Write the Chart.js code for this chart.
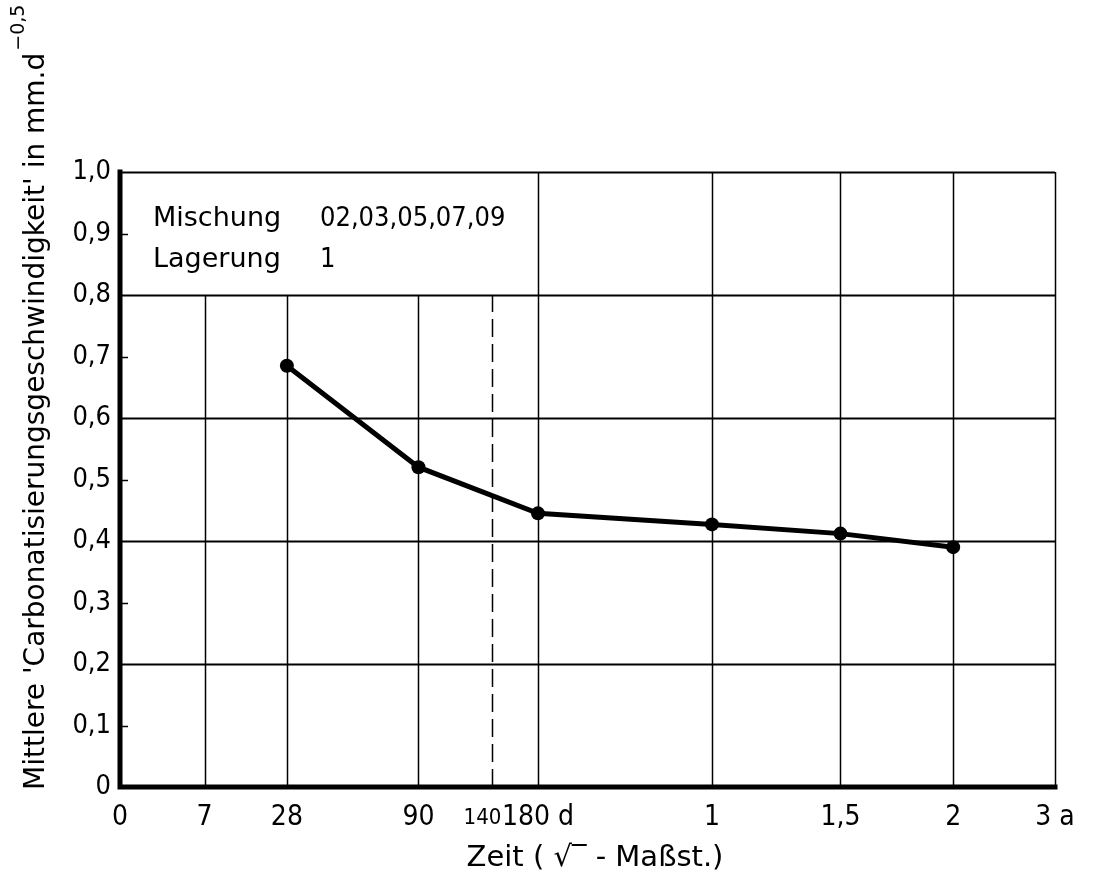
<!DOCTYPE html>
<html>
<head>
<meta charset="utf-8">
<script src="https://cdn.jsdelivr.net/npm/chart.js@4.4.1/dist/chart.umd.min.js"></script>
<style>
    body { margin: 0; background: #fff; }
    canvas { display: block; }
</style>
</head>
<body>
<canvas id="carbChart" width="1098" height="880"></canvas>
<script>
// x axis is a square-root time scale; positions
const tickLabels = ['0', '7', '28', '90', '140', '180 d', '1', '1,5', '2', '3 a'];
const tickPos = [0, 2.73, 5.39, 9.64, 12.03, 13.50, 19.12, 23.27, 26.91, 30.2];

// measured points (Lagerung 1)
const pointLabels = ['28', '90', '180 d', '1', '1,5', '2'];
const rateValues = [0.685, 0.52, 0.445, 0.427, 0.412, 0.39];

const yTickLabels = ['0', '0,1', '0,2', '0,3', '0,4', '0,5', '0,6', '0,7', '0,8', '0,9', '1,0'];

const wordFont = "'DejaVu Sans', sans-serif";
const numFont = "'DejaVu Sans Condensed', 'DejaVu Sans', sans-serif";

const paperGrid = {
    id: 'paperGrid',
    beforeDraw(chart) {
        const ctx = chart.ctx;
        ctx.save();
        ctx.fillStyle = '#fff';
        ctx.fillRect(0, 0, chart.width, chart.height);
        ctx.restore();
    },
    beforeDatasetsDraw(chart) {
        const { ctx, chartArea: a, scales: { x, y } } = chart;
        ctx.save();
        ctx.strokeStyle = '#000';

        // horizontal lines every 0.2, short inner ticks at the odd tenths
        y.ticks.forEach((t, i) => {
            const py = Math.round(y.getPixelForValue(t.value)) + 0.5;
            ctx.beginPath();
            if (i % 2 === 0) {
                if (i === 0) return;
                ctx.lineWidth = 1.8;
                ctx.moveTo(a.left, py);
                ctx.lineTo(a.right, py);
            } else {
                ctx.lineWidth = 1.5;
                ctx.moveTo(a.left, py);
                ctx.lineTo(a.left + 8, py);
            }
            ctx.stroke();
        });

        // vertical lines; the ones left of 180 d stop under the caption box
        const boxEdge = tickPos[tickLabels.indexOf('180 d')];
        const boxBottom = y.getPixelForValue(0.8);
        x.ticks.forEach((t, i) => {
            if (i === 0) return;
            const px = Math.round(x.getPixelForValue(t.value)) + 0.5;
            const top = t.value < boxEdge ? boxBottom : a.top;
            ctx.beginPath();
            ctx.lineWidth = 1.5;
            ctx.setLineDash(tickLabels[i] === '140' ? [18, 7] : []);
            ctx.moveTo(px, a.bottom);
            ctx.lineTo(px, top);
            ctx.stroke();
        });
        ctx.setLineDash([]);

        // heavy axes
        ctx.lineWidth = 5;
        ctx.lineCap = 'square';
        ctx.beginPath();
        ctx.moveTo(a.left, a.top);
        ctx.lineTo(a.left, a.bottom);
        ctx.lineTo(a.right, a.bottom);
        ctx.stroke();
        ctx.restore();
    },
    afterDraw(chart) {
        const { ctx, chartArea: a, scales: { x } } = chart;
        ctx.save();
        ctx.fillStyle = '#000';

        // caption box text
        ctx.textAlign = 'left';
        ctx.textBaseline = 'alphabetic';
        ctx.font = '27px ' + wordFont;
        ctx.fillText('Mischung', a.left + 33, 226);
        ctx.fillText('Lagerung', a.left + 33, 267);
        ctx.font = '27px ' + numFont;
        ctx.fillText('02,03,05,07,09', a.left + 200, 226);
        ctx.fillText('1', a.left + 200, 267);

        // small 140 label, on the same baseline as the other day labels
        ctx.textAlign = 'center';
        ctx.font = '22px ' + numFont;
        ctx.fillText('140', x.getPixelForValue(tickPos[tickLabels.indexOf('140')]) - 10, 824);

        // x title
        ctx.textBaseline = 'middle';
        ctx.font = '29px ' + wordFont;
        ctx.fillText('Zeit ( \u221A\u203E - Maßst.)', 595, 858);

        // y title with exponent
        ctx.translate(44, 790);
        ctx.rotate(-Math.PI / 2);
        ctx.textAlign = 'left';
        ctx.textBaseline = 'alphabetic';
        ctx.font = '28px ' + wordFont;
        const main = "Mittlere 'Carbonatisierungsgeschwindigkeit' in mm.d";
        ctx.fillText(main, 0, 0);
        const w = ctx.measureText(main).width;
        ctx.font = '19px ' + wordFont;
        ctx.fillText('\u22120,5', w + 2, -20);
        ctx.restore();
    }
};

const chartData = pointLabels.map((lbl, i) => ({
    x: tickPos[tickLabels.indexOf(lbl)],
    y: rateValues[i]
}));

new Chart(document.getElementById('carbChart'), {
    type: 'line',
    data: {
        datasets: [{
            data: chartData,
            borderColor: '#000',
            backgroundColor: '#000',
            borderWidth: 5,
            pointRadius: 7,
            pointHoverRadius: 7,
            pointBackgroundColor: '#000',
            pointBorderWidth: 0,
            tension: 0
        }]
    },
    options: {
        responsive: false,
        animation: false,
        layout: {
            padding: { top: 172, right: 43, left: 0, bottom: 0 }
        },
        plugins: {
            legend: { display: false },
            tooltip: { enabled: false }
        },
        scales: {
            x: {
                type: 'linear',
                min: 0,
                max: tickPos[tickPos.length - 1],
                afterBuildTicks: scale => {
                    scale.ticks = tickPos.map(v => ({ value: v }));
                },
                afterFit: scale => { scale.height = 93; },
                grid: { display: false, drawTicks: false },
                border: { display: false },
                ticks: {
                    padding: 14,
                    color: '#000',
                    maxRotation: 0,
                    autoSkip: false,
                    font: { family: numFont, size: 28 },
                    // 140 is drawn by the plugin in a smaller size
                    callback: (v, i) => tickLabels[i] === '140' ? '' : tickLabels[i]
                }
            },
            y: {
                min: 0,
                max: 1,
                afterFit: scale => { scale.width = 120; },
                grid: { display: false, drawTicks: false },
                border: { display: false },
                ticks: {
                    stepSize: 0.1,
                    padding: 9,
                    color: '#000',
                    font: { family: numFont, size: 27 },
                    callback: (v, i) => yTickLabels[i]
                }
            }
        }
    },
    plugins: [paperGrid]
});
</script>
</body>
</html>
